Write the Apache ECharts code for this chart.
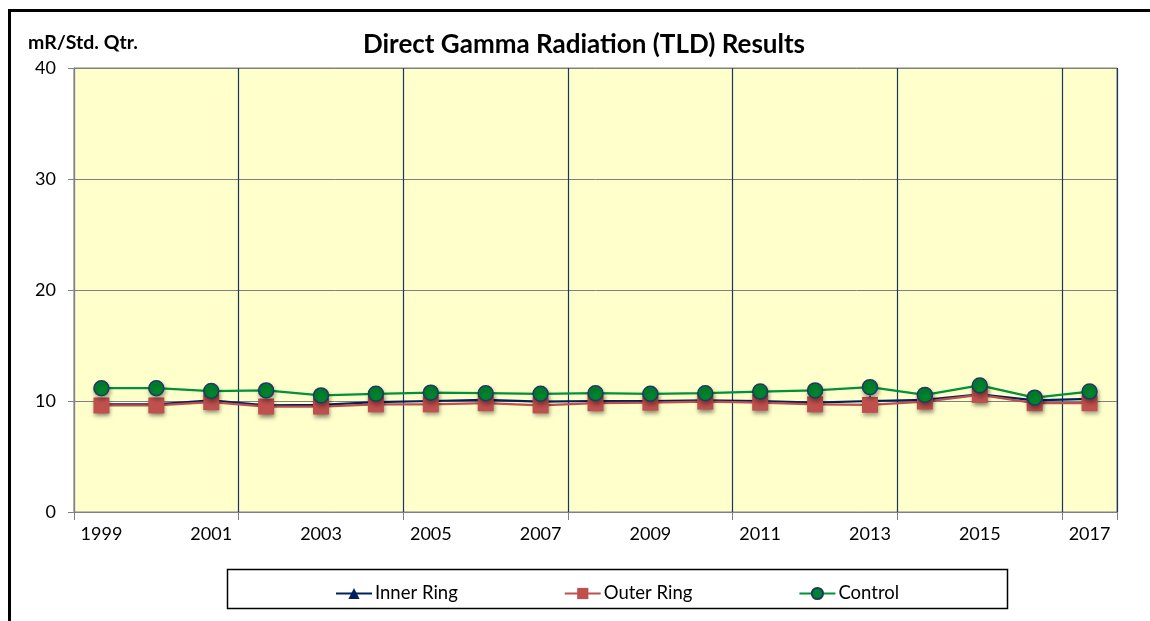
<!DOCTYPE html>
<html>
<head>
<meta charset="utf-8">
<script src="https://cdn.jsdelivr.net/npm/echarts@6/dist/echarts.min.js"></script>
<style>html,body{margin:0;padding:0;background:#fff;}#c{width:1150px;height:621px;}</style>
</head>
<body>
<div id="c"></div>
<script>
const years = ['1999','2000','2001','2002','2003','2004','2005','2006','2007','2008','2009','2010','2011','2012','2013','2014','2015','2016','2017'];
const innerRing = [9.7, 9.7, 10.05, 9.6, 9.65, 9.9, 10.0, 10.1, 9.95, 10.0, 10.0, 10.05, 10.0, 9.85, 10.0, 10.1, 10.6, 10.05, 10.2];
const outerRing = [9.6, 9.6, 9.9, 9.5, 9.5, 9.7, 9.7, 9.8, 9.6, 9.8, 9.85, 9.95, 9.85, 9.7, 9.65, 9.95, 10.55, 9.8, 9.8];
const control = [11.15, 11.15, 10.9, 10.95, 10.5, 10.65, 10.75, 10.7, 10.65, 10.7, 10.65, 10.7, 10.85, 10.95, 11.25, 10.55, 11.4, 10.3, 10.85];
const yTicks = {min: 0, max: 40, interval: 10};

const FONT = 'Lato, "Open Sans", sans-serif';
const shadow = {shadowColor: 'rgba(0,0,0,0.35)', shadowBlur: 4, shadowOffsetX: 1, shadowOffsetY: 3};

const chart = echarts.init(document.getElementById('c'), null, {renderer: 'canvas'});
chart.setOption({
  animation: false,
  textStyle: {fontFamily: FONT},
  title: [
    {text: 'Direct Gamma Radiation (TLD) Results', left: 579, top: 27, textAlign: 'center',
     textStyle: {fontFamily: FONT, fontWeight: 'bold', fontSize: 26, color: '#000'}},
    {text: 'mR/Std. Qtr.', left: 23, top: 28,
     textStyle: {fontFamily: FONT, fontWeight: 'bold', fontSize: 19.5, color: '#000'}}
  ],
  graphic: [
    {type: 'rect', shape: {x: 9.5, y: 10.5, width: 1300, height: 800}, silent: true,
     style: {fill: 'none', stroke: '#000', lineWidth: 3}, z: 100},
    {type: 'rect', shape: {x: 227.5, y: 569.5, width: 780, height: 39}, silent: true,
     style: {fill: '#fff', stroke: '#000', lineWidth: 1.5}, z: -1}
  ],
  legend: {
    left: 330, top: 579, itemGap: 106, itemWidth: 36, itemHeight: 14,
    textStyle: {fontFamily: FONT, fontSize: 18.5, color: '#000', padding: [0, 0, 0, -2]},
    data: ['Inner Ring', 'Outer Ring', 'Control']
  },
  grid: {left: 74, top: 68, right: 33, bottom: 109, show: true, backgroundColor: '#FFFFCC',
         borderColor: '#808080', borderWidth: 1, containLabel: false},
  xAxis: {
    type: 'category', data: years, boundaryGap: true,
    axisLine: {lineStyle: {color: '#808080', width: 1}},
    axisTick: {show: true, interval: 2, length: 8, inside: false, lineStyle: {color: '#808080'}},
    axisLabel: {interval: 1, margin: 13, fontSize: 18, color: '#000', fontFamily: FONT},
    splitLine: {show: true, interval: 2, lineStyle: {color: '#17375E', width: 1.2}}
  },
  yAxis: {
    type: 'value', min: yTicks.min, max: yTicks.max, interval: yTicks.interval,
    axisLine: {show: true, lineStyle: {color: '#808080', width: 1}},
    axisTick: {show: true, length: 6, lineStyle: {color: '#808080'}},
    axisLabel: {fontSize: 18, color: '#000', margin: 18, fontFamily: FONT},
    splitLine: {show: true, lineStyle: {color: '#808080', width: 1}}
  },
  series: [
    {name: 'Inner Ring', type: 'line', data: innerRing, symbol: 'triangle', symbolSize: 12,
     lineStyle: {color: '#002060', width: 2.25},
     itemStyle: Object.assign({color: '#002060'}, shadow)},
    {name: 'Outer Ring', type: 'line', data: outerRing, symbol: 'rect', symbolSize: 16,
     lineStyle: {color: '#C0504D', width: 2.25},
     itemStyle: Object.assign({color: '#C0504D'}, shadow)},
    {name: 'Control', type: 'line', data: control, symbol: 'circle', symbolSize: 15,
     lineStyle: {color: '#00913A', width: 2.25},
     itemStyle: Object.assign({color: '#00852E', borderColor: '#1F3864', borderWidth: 1.5}, shadow)}
  ]
});
</script>
</body>
</html>
